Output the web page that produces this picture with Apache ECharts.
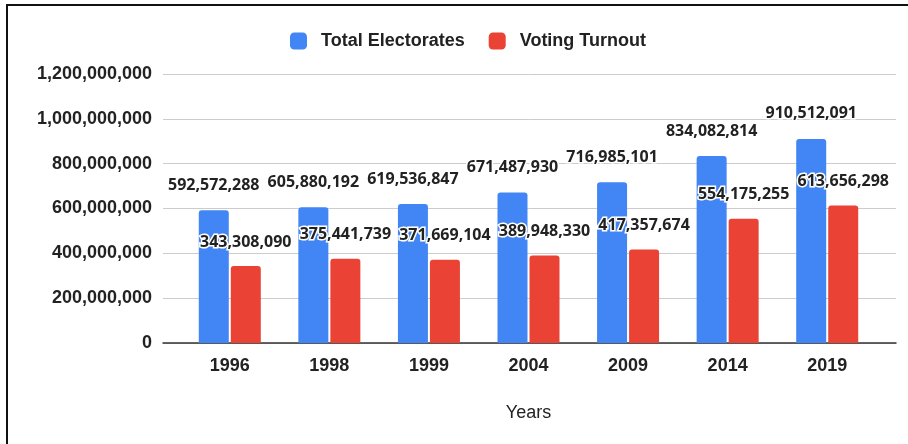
<!DOCTYPE html>
<html>
<head>
<meta charset="utf-8">
<script src="https://cdn.jsdelivr.net/npm/echarts@6/dist/echarts.min.js"></script>
<style>
  html, body { margin: 0; padding: 0; background: #fff; }
  #chart { width: 908px; height: 444px; }
</style>
</head>
<body>
<div id="chart"></div>
<script>
// Election years and counts
const years = ['1996', '1998', '1999', '2004', '2009', '2014', '2019'];
const totalElectorates = [592572288, 605880192, 619536847, 671487930, 716985101, 834082814, 910512091];
const votingTurnout = [343308090, 375441739, 371669104, 389948330, 417357674, 554175255, 613656298];
const yTicks = { min: 0, max: 1200000000, step: 200000000 };

const fmt = v => Number(v).toLocaleString('en-US');

const valueLabel = {
  show: true,
  position: 'top',
  distance: 16,
  formatter: p => fmt(p.value),
  fontFamily: 'Open Sans',
  fontWeight: 'bold',
  fontSize: 16,
  lineHeight: 16,
  color: '#222',
  textBorderColor: '#fff',
  textBorderWidth: 3
};

const chart = echarts.init(document.getElementById('chart'), null, { renderer: 'canvas' });
chart.setOption({
  animation: false,
  backgroundColor: '#fff',
  graphic: [{
    type: 'rect',
    shape: { x: 7, y: 5, width: 1000, height: 1000 },
    style: { fill: 'none', stroke: '#111', lineWidth: 2 },
    silent: true, z: -1
  }],
  legend: {
    left: 285, top: 27,
    itemWidth: 17, itemHeight: 17, itemGap: 24,
    icon: 'roundRect',
    textStyle: {
      fontFamily: 'Liberation Sans', fontWeight: 'bold', fontSize: 18, color: '#222',
      padding: [0, 0, 0, 9]
    },
    data: ['Total Electorates', 'Voting Turnout']
  },
  grid: [
    { left: 163, right: 12, top: 74, bottom: 101 },
    { left: 180, right: 31, top: 74, bottom: 101 }
  ],
  xAxis: [
    {
      gridIndex: 0, type: 'category', data: years,
      axisLabel: { show: false }, axisTick: { show: false },
      axisLine: { show: true, lineStyle: { color: '#333', width: 1.5 } }
    },
    {
      gridIndex: 1, type: 'category', data: years,
      axisTick: { show: false }, axisLine: { show: false },
      axisLabel: {
        margin: 14, fontFamily: 'Liberation Sans', fontWeight: 'bold',
        fontSize: 18, color: '#222'
      },
      name: 'Years', nameLocation: 'middle', nameGap: 61,
      nameTextStyle: { fontFamily: 'Liberation Sans', fontSize: 18, color: '#222' }
    }
  ],
  yAxis: [
    {
      gridIndex: 0, type: 'value',
      min: yTicks.min, max: yTicks.max, interval: yTicks.step,
      axisLine: { show: false }, axisTick: { show: false },
      axisLabel: {
        margin: 11, formatter: v => fmt(v),
        fontFamily: 'Liberation Sans', fontWeight: 'bold', fontSize: 18, color: '#222'
      },
      splitLine: { lineStyle: { color: '#ccc', width: 1 } }
    },
    {
      gridIndex: 1, type: 'value',
      min: yTicks.min, max: yTicks.max, interval: yTicks.step,
      show: false, splitLine: { show: false }
    }
  ],
  series: [
    {
      name: 'Total Electorates', type: 'bar', xAxisIndex: 1, yAxisIndex: 1,
      data: totalElectorates, barWidth: 30, barGap: '6.7%',
      itemStyle: { color: '#4285F4', borderRadius: [3, 3, 0, 0] },
      label: Object.assign({}, valueLabel, { distance: 17 })
    },
    {
      name: 'Voting Turnout', type: 'bar', xAxisIndex: 1, yAxisIndex: 1,
      data: votingTurnout, barWidth: 30, barGap: '6.7%',
      itemStyle: { color: '#EA4335', borderRadius: [3, 3, 0, 0] },
      label: valueLabel
    }
  ]
});
</script>
</body>
</html>
